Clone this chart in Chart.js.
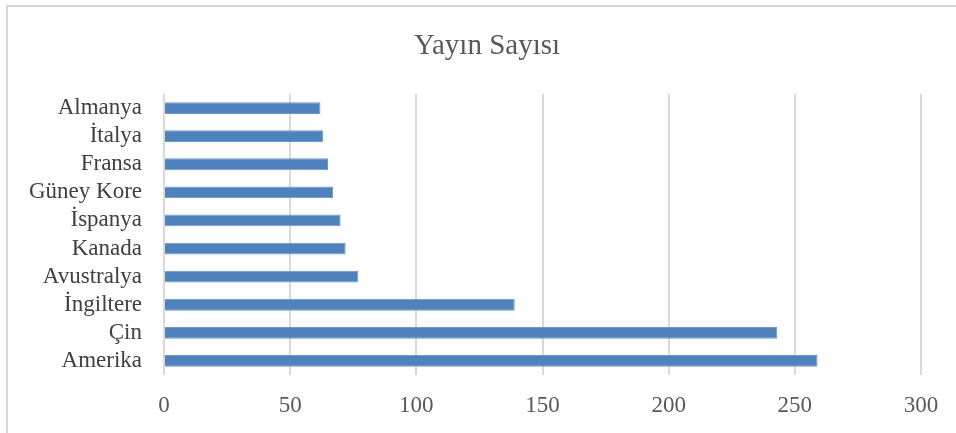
<!DOCTYPE html>
<html>
<head>
<meta charset="utf-8">
<script src="https://cdn.jsdelivr.net/npm/chart.js@4"></script>
<style>
  html, body { margin: 0; padding: 0; background: #fff; }
  #wrap { width: 956px; height: 433px; }
</style>
</head>
<body>
<div id="wrap"><canvas id="chart"></canvas></div>
<script>
const countries = ['Almanya', 'İtalya', 'Fransa', 'Güney Kore', 'İspanya', 'Kanada', 'Avustralya', 'İngiltere', 'Çin', 'Amerika'];
const publications = [62, 63, 65, 67, 70, 72, 77, 139, 243, 259];
const axisMax = 300;
const axisStep = 50;
const chartTitle = 'Yayın Sayısı';

// light frame and the title, centred on the whole frame like the office export
const framePlugin = {
    id: 'frame',
    beforeDraw(chart) {
        const ctx = chart.ctx;
        ctx.save();
        ctx.strokeStyle = '#d9d9d9';
        ctx.lineWidth = 2;
        ctx.strokeRect(7, 6, 1200, 1200);
        ctx.fillStyle = '#595959';
        ctx.font = '29px "Liberation Serif"';
        ctx.textAlign = 'center';
        ctx.textBaseline = 'middle';
        ctx.fillText(chartTitle, 487, 46);
        ctx.restore();
    }
};

new Chart(document.getElementById('chart'), {
    type: 'bar',
    data: {
        labels: countries,
        datasets: [{
            label: chartTitle,
            data: publications,
            backgroundColor: '#4f81bd',
            borderColor: '#6f97c9',
            borderWidth: 1,
            borderSkipped: 'left',
            categoryPercentage: 1,
            barPercentage: 0.42
        }]
    },
    options: {
        indexAxis: 'y',
        responsive: true,
        maintainAspectRatio: false,
        animation: false,
        layout: {
            padding: { left: 0, right: 35, top: 94, bottom: 0 }
        },
        plugins: {
            legend: { display: false },
            tooltip: { enabled: false },
            title: { display: false }
        },
        scales: {
            x: {
                min: 0,
                max: axisMax,
                ticks: {
                    stepSize: axisStep,
                    color: '#595959',
                    padding: 17,
                    font: { family: 'Liberation Serif', size: 23 }
                },
                grid: {
                    color: '#d9d9d9',
                    lineWidth: 2,
                    drawTicks: false
                },
                border: { display: false },
                afterFit(scale) { scale.height = 58; }
            },
            y: {
                ticks: {
                    color: '#404040',
                    padding: 22,
                    autoSkip: false,
                    font: { family: 'Liberation Serif', size: 23 }
                },
                grid: { display: false, drawTicks: false },
                border: { display: false },
                afterFit(scale) { scale.width = 164; }
            }
        }
    },
    plugins: [framePlugin]
});
</script>
</body>
</html>
